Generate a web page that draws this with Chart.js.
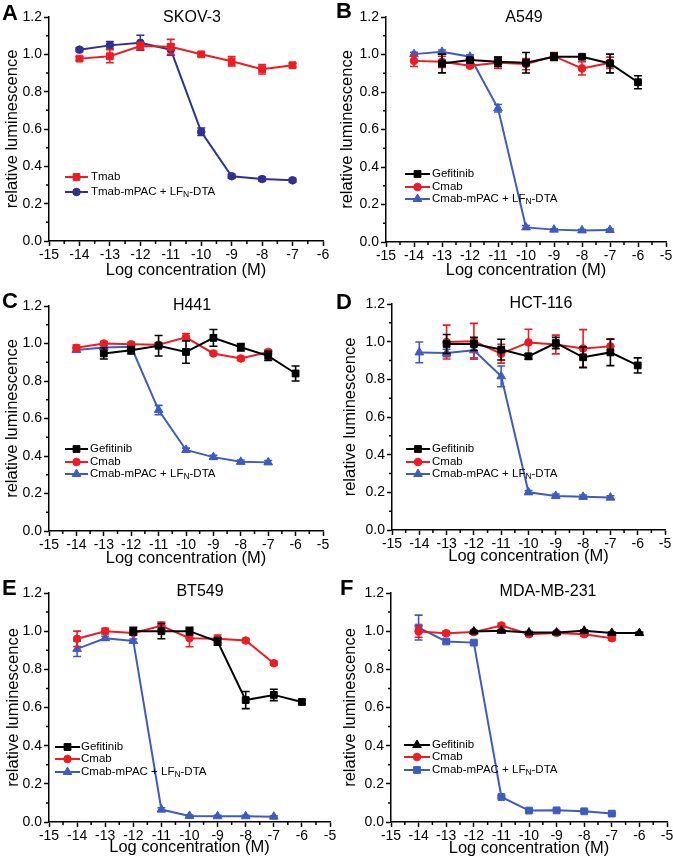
<!DOCTYPE html>
<html>
<head>
<meta charset="utf-8">
<script src="https://cdn.jsdelivr.net/npm/chart.js@4.4.0/dist/chart.umd.min.js"></script>
<style>
  html, body { margin: 0; padding: 0; background: #fff; }
  #wrap { position: relative; width: 673px; height: 859px; overflow: hidden; }
  #wrap canvas { position: absolute; }
</style>
</head>
<body>
<div id="wrap">
  <canvas id="pA" width="336" height="285" style="left:0;top:0"></canvas>
  <canvas id="pB" width="337" height="285" style="left:336px;top:0"></canvas>
  <canvas id="pC" width="336" height="285" style="left:0;top:285px"></canvas>
  <canvas id="pD" width="337" height="285" style="left:336px;top:285px"></canvas>
  <canvas id="pE" width="336" height="289" style="left:0;top:570px"></canvas>
  <canvas id="pF" width="337" height="289" style="left:336px;top:570px"></canvas>
</div>
<script>
// doses (log M)
const dose14to7 = [-14, -13, -12, -11, -10, -9, -8, -7];
const dose13to6 = [-13, -12, -11, -10, -9, -8, -7, -6];
const dose13to7 = [-13, -12, -11, -10, -9, -8, -7];
const dose12to6 = [-12, -11, -10, -9, -8, -7, -6];

// A - SKOV-3
const skovTmab = [0.977, 0.99, 1.045, 1.04, 1.0, 0.963, 0.92, 0.942];
const skovTmabErr = [0.01, 0.035, 0.02, 0.04, 0.01, 0.025, 0.025, 0.01];
const skovConj = [1.025, 1.048, 1.062, 1.025, 0.585, 0.347, 0.332, 0.325];
const skovConjErr = [0.01, 0.02, 0.04, 0.03, 0.02, 0.01, 0.01, 0.01];

// B - A549
const a549Gef = [0.952, 0.970, 0.961, 0.956, 0.988, 0.988, 0.952, 0.852];
const a549GefErr = [0.05, 0.01, 0.025, 0.055, 0.02, 0.01, 0.05, 0.035];
const a549Cmab = [0.966, 0.961, 0.94, 0.956, 0.949, 0.991, 0.926, 0.956];
const a549CmabErr = [0.03, 0.03, 0.01, 0.03, 0.03, 0.02, 0.035, 0.03];
const a549Conj = [1.002, 1.014, 0.988, 0.713, 0.078, 0.066, 0.062, 0.064];
const a549ConjErr = [0.01, 0.01, 0.01, 0.02, 0.01, 0.005, 0.005, 0.005];

// C - H441
const h441Gef = [0.947, 0.964, 0.988, 0.955, 1.03, 0.98, 0.934, 0.84];
const h441GefErr = [0.03, 0.02, 0.055, 0.06, 0.045, 0.02, 0.025, 0.04];
const h441Cmab = [0.977, 1.0, 0.996, 0.993, 1.033, 0.947, 0.92, 0.955];
const h441CmabErr = [0.015, 0.01, 0.01, 0.01, 0.02, 0.01, 0.01, 0.01];
const h441Conj = [0.965, 0.979, 0.982, 0.645, 0.432, 0.394, 0.369, 0.366];
const h441ConjErr = [0.01, 0.01, 0.01, 0.025, 0.01, 0.01, 0.01, 0.01];

// D - HCT-116
const hctGef = [0.988, 0.988, 0.958, 0.922, 0.993, 0.917, 0.943, 0.874];
const hctGefErr = [0.05, 0.035, 0.055, 0.015, 0.03, 0.055, 0.07, 0.04];
const hctCmab = [0.998, 1.002, 0.936, 0.996, 0.985, 0.964, 0.975];
const hctCmabErr = [0.09, 0.095, 0.05, 0.07, 0.05, 0.1, 0.04];
const hctConj = [0.943, 0.94, 0.954, 0.816, 0.2, 0.181, 0.176, 0.172];
const hctConjErr = [0.055, 0.02, 0.04, 0.055, 0.01, 0.01, 0.01, 0.01];

// E - BT549
const btGef = [1.0, 1.0, 1.0, 0.946, 0.639, 0.666, 0.629];
const btGefErr = [0.02, 0.04, 0.02, 0.02, 0.045, 0.03, 0.01];
const btCmab = [0.96, 1.0, 0.991, 1.028, 0.963, 0.96, 0.951, 0.832];
const btCmabErr = [0.04, 0.015, 0.01, 0.02, 0.045, 0.02, 0.01, 0.01];
const btConj = [0.907, 0.963, 0.949, 0.065, 0.032, 0.03, 0.03, 0.028];
const btConjErr = [0.04, 0.01, 0.01, 0.01, 0.005, 0.005, 0.005, 0.005];

// F - MDA-MB-231
const mdaGef = [0.998, 1.002, 0.993, 0.993, 1.002, 0.991, 0.99];
const mdaGefErr = [0.005, 0.005, 0.005, 0.005, 0.005, 0.005, 0.005];
const mdaCmab = [0.998, 0.989, 0.995, 1.03, 0.984, 0.991, 0.984, 0.963];
const mdaCmabErr = [0.03, 0.01, 0.005, 0.01, 0.01, 0.005, 0.01, 0.01];
const mdaConj = [1.019, 0.946, 0.94, 0.131, 0.06, 0.061, 0.056, 0.044];
const mdaConjErr = [0.065, 0.01, 0.005, 0.005, 0.005, 0.005, 0.005, 0.005];

const FONT = '"Liberation Sans", Arial, sans-serif';
const RED = '#ed1c24';
const NAVY = '#2e3192';
const BLUE = '#3d5cc0';
const BLACK = '#000000';
const conjLabel = 'Cmab-mPAC + LF_N-DTA';

function series(label, xs, ys, errs, color, style) {
  const radius = style === 'rect' ? 4.8 : (style === 'triangle' ? 5 : 3.8);
  return {
    label: label,
    data: xs.map((x, i) => ({ x: x, y: ys[i] })),
    errors: errs,
    borderColor: color,
    backgroundColor: color,
    borderWidth: 2,
    pointStyle: style,
    pointRadius: radius,
    pointBorderWidth: 1,
    tension: 0
  };
}

const isMajorY = v => Math.round(v * 10) % 2 === 0;
const isMajorX = v => Math.abs(v - Math.round(v)) < 1e-6;

// error bars under each series
const errorBars = {
  id: 'errorBars',
  beforeDatasetDraw(chart, args) {
    const ds = chart.data.datasets[args.index];
    if (!ds.errors) return;
    const ctx = chart.ctx, ys = chart.scales.y;
    ctx.save();
    ctx.strokeStyle = ds.borderColor;
    ctx.lineWidth = 1.6;
    args.meta.data.forEach((pt, i) => {
      const v = ds.data[i].y, e = ds.errors[i];
      const t = ys.getPixelForValue(v + e), b = ys.getPixelForValue(v - e);
      ctx.beginPath();
      ctx.moveTo(pt.x, t); ctx.lineTo(pt.x, b);
      ctx.moveTo(pt.x - 4, t); ctx.lineTo(pt.x + 4, t);
      ctx.moveTo(pt.x - 4, b); ctx.lineTo(pt.x + 4, b);
      ctx.stroke();
    });
    ctx.restore();
  }
};

// minor ticks, panel letter, title, legend with subscript
const panelDecor = {
  id: 'panelDecor',
  afterDraw(chart, args, p) {
    const ctx = chart.ctx, area = chart.chartArea;
    const sx = chart.scales.x, sy = chart.scales.y;
    ctx.save();
    ctx.strokeStyle = '#000';
    ctx.lineWidth = 1.5;
    ctx.beginPath();
    sx.ticks.forEach((t, i) => {
      if (isMajorX(t.value)) return;
      const px = sx.getPixelForTick(i);
      ctx.moveTo(px, area.bottom); ctx.lineTo(px, area.bottom + 3);
    });
    sy.ticks.forEach((t, i) => {
      if (isMajorY(t.value)) return;
      const py = sy.getPixelForTick(i);
      ctx.moveTo(area.left, py); ctx.lineTo(area.left - 3, py);
    });
    ctx.stroke();

    ctx.fillStyle = '#000';
    ctx.textBaseline = 'alphabetic';
    ctx.textAlign = 'left';
    ctx.font = 'bold 22px ' + FONT;
    ctx.fillText(p.letter, p.letterX, p.letterY);
    ctx.textAlign = 'center';
    ctx.font = '16px ' + FONT;
    ctx.fillText(p.title, p.titleX, p.titleY);

    // legend
    const lg = p.legend;
    ctx.textAlign = 'left';
    ctx.textBaseline = 'middle';
    chart.data.datasets.forEach((ds, i) => {
      const y = lg.rows[i];
      ctx.strokeStyle = ds.borderColor;
      ctx.fillStyle = ds.backgroundColor;
      ctx.lineWidth = 2;
      ctx.beginPath();
      ctx.moveTo(lg.x0, y); ctx.lineTo(lg.x1, y);
      ctx.stroke();
      ctx.lineWidth = 1;
      Chart.helpers.drawPoint(ctx, { pointStyle: ds.pointStyle, radius: ds.pointRadius, rotation: 0, borderWidth: 1 }, (lg.x0 + lg.x1) / 2, y);
      ctx.fillStyle = '#000';
      let x = lg.tx;
      ds.label.split(/_(\w)/).forEach((part, k) => {
        const sub = k % 2 === 1;
        ctx.font = (sub ? 8.5 : 11.5) + 'px ' + FONT;
        ctx.fillText(part, x, sub ? y + 3 : y);
        x += ctx.measureText(part).width;
      });
    });
    ctx.restore();
  }
};

function makeChart(id, datasets, p) {
  const tickFont = { size: 14, family: FONT };
  return new Chart(document.getElementById(id), {
    type: 'line',
    data: { datasets: datasets },
    options: {
      responsive: false,
      animation: false,
      layout: { padding: { left: 0, top: p.top, right: p.right, bottom: 0 } },
      plugins: { legend: { display: false }, tooltip: { enabled: false }, panelDecor: p },
      scales: {
        x: {
          type: 'linear', min: -15, max: p.xMax,
          afterFit(s) { s.height = p.xH; s.paddingLeft = 0; s.paddingRight = 0; },
          ticks: {
            stepSize: 0.5, autoSkip: false, maxRotation: 0, padding: 1, color: '#000', font: tickFont,
            callback: v => isMajorX(v) ? String(Math.round(v)) : ''
          },
          grid: {
            drawOnChartArea: false, tickLength: 5, tickWidth: 1.5,
            tickColor: c => (c.tick && isMajorX(c.tick.value)) ? '#000' : 'rgba(0,0,0,0)'
          },
          border: { display: true, color: '#000', width: 1.5 },
          title: {
            display: true, text: 'Log concentration (M)', color: '#000',
            font: { size: 16.5, family: FONT }, padding: { top: 0, bottom: p.xTitlePad }
          }
        },
        y: {
          min: 0, max: 1.2,
          afterFit(s) { s.width = p.yW; s.paddingTop = 0; s.paddingBottom = 0; },
          ticks: {
            stepSize: 0.1, autoSkip: false, padding: 2, color: '#000', font: tickFont,
            callback: v => isMajorY(v) ? v.toFixed(1) : ''
          },
          grid: {
            drawOnChartArea: false, tickLength: 5, tickWidth: 1.5,
            tickColor: c => (c.tick && isMajorY(c.tick.value)) ? '#000' : 'rgba(0,0,0,0)'
          },
          border: { display: true, color: '#000', width: 1.5 },
          title: {
            display: true, text: 'relative luminescence', color: '#000',
            font: { size: 16.5, family: FONT }, padding: { top: p.yTitlePad, bottom: 0 }
          }
        }
      }
    },
    plugins: [errorBars, panelDecor]
  });
}

makeChart('pA', [
  series('Tmab', dose14to7, skovTmab, skovTmabErr, RED, 'rect'),
  series('Tmab-mPAC + LF_N-DTA', dose14to7, skovConj, skovConjErr, NAVY, 'circle')
], { top: 17, right: 13, yW: 49, xH: 44, xMax: -6, xTitlePad: 5, yTitlePad: 3,
     letter: 'A', letterX: 2, letterY: 20, title: 'SKOV-3', titleX: 192, titleY: 22,
     legend: { x0: 65, x1: 88, tx: 91, rows: [177, 192] } });

makeChart('pB', [
  series('Gefitinib', dose13to6, a549Gef, a549GefErr, BLACK, 'rect'),
  series('Cmab', dose14to7, a549Cmab, a549CmabErr, RED, 'circle'),
  series(conjLabel, dose14to7, a549Conj, a549ConjErr, BLUE, 'triangle')
], { top: 17, right: 7, yW: 50, xH: 43, xMax: -5, xTitlePad: 5, yTitlePad: 2,
     letter: 'B', letterX: 0, letterY: 18, title: 'A549', titleX: 188, titleY: 22,
     legend: { x0: 69, x1: 94, tx: 96, rows: [174, 187, 199] } });

makeChart('pC', [
  series('Gefitinib', dose13to6, h441Gef, h441GefErr, BLACK, 'rect'),
  series('Cmab', dose14to7, h441Cmab, h441CmabErr, RED, 'circle'),
  series(conjLabel, dose14to7, h441Conj, h441ConjErr, BLUE, 'triangle')
], { top: 21, right: 13, yW: 49, xH: 39, xMax: -5, xTitlePad: 2, yTitlePad: 3,
     letter: 'C', letterX: 2, letterY: 23, title: 'H441', titleX: 192, titleY: 25,
     legend: { x0: 65, x1: 88, tx: 90, rows: [164, 177, 189] } });

makeChart('pD', [
  series('Gefitinib', dose13to6, hctGef, hctGefErr, BLACK, 'rect'),
  series('Cmab', dose13to7, hctCmab, hctCmabErr, RED, 'circle'),
  series(conjLabel, dose14to7, hctConj, hctConjErr, BLUE, 'triangle')
], { top: 19, right: 8, yW: 56, xH: 40, xMax: -5, xTitlePad: 4, yTitlePad: 5,
     letter: 'D', letterX: 0, letterY: 24, title: 'HCT-116', titleX: 205, titleY: 23,
     legend: { x0: 70, x1: 94, tx: 96, rows: [164, 177, 189] } });

makeChart('pE', [
  series('Gefitinib', dose12to6, btGef, btGefErr, BLACK, 'rect'),
  series('Cmab', dose14to7, btCmab, btCmabErr, RED, 'circle'),
  series(conjLabel, dose14to7, btConj, btConjErr, BLUE, 'triangle')
], { top: 23, right: 5, yW: 49, xH: 37, xMax: -5, xTitlePad: 2, yTitlePad: 4,
     letter: 'E', letterX: 2, letterY: 25, title: 'BT549', titleX: 200, titleY: 26,
     legend: { x0: 55, x1: 80, tx: 81, rows: [177, 189, 202] } });

makeChart('pF', [
  series('Gefitinib', dose12to6, mdaGef, mdaGefErr, BLACK, 'triangle'),
  series('Cmab', dose14to7, mdaCmab, mdaCmabErr, RED, 'circle'),
  series(conjLabel, dose14to7, mdaConj, mdaConjErr, BLUE, 'rect')
], { top: 23, right: 3, yW: 55, xH: 37, xMax: -5, xTitlePad: 1, yTitlePad: 5,
     letter: 'F', letterX: 4, letterY: 25, title: 'MDA-MB-231', titleX: 212, titleY: 26,
     legend: { x0: 68, x1: 94, tx: 96, rows: [175, 187, 200] } });
</script>
</body>
</html>
